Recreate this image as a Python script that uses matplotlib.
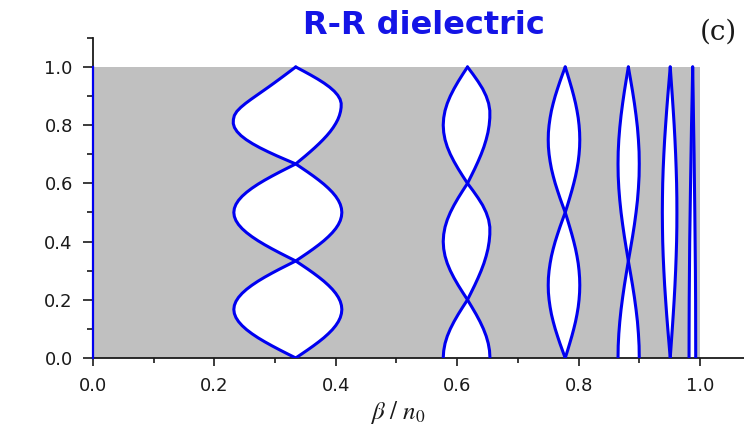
import matplotlib
matplotlib.use("Agg")
import matplotlib.pyplot as plt
from matplotlib.ticker import MultipleLocator

# ---- pass-band edges: normalized y vs. beta/n0 (left and right boundary of each band) ----
# band 1
band1_y = [0, .0139, .0278, .0417, .0556, .0694, .0833, .0972, .1111, .125, .1389, .1528,
           .1667, .1806, .1944, .2083, .2222, .2361, .25, .2639, .2778, .2917, .3056, .3194,
           .3333, .3472, .3611, .375, .3889, .4028, .4167, .4306, .4444, .4583, .4722, .4861,
           .5, .5139, .5278, .5417, .5556, .5694, .5833, .5972, .6111, .625, .6389, .6528,
           .6667, .6806, .6944, .7083, .7222, .7361, .75, .7639, .7778, .7917, .8056, .8194,
           .8333, .8472, .8611, .875, .8889, .9028, .9167, .9306, .9444, .9583, .9722, .9861, 1.0]
band1_left = [.3340, .3207, .3076, .2950, .2830, .2719, .2619, .2531, .2457, .2398, .2355, .2329,
              .2320, .2329, .2355, .2398, .2457, .2531, .2619, .2719, .2830, .2950, .3076, .3207,
              .3340, .3207, .3076, .2950, .2830, .2719, .2619, .2531, .2457, .2398, .2355, .2329,
              .2320, .2329, .2355, .2398, .2457, .2531, .2619, .2719, .2830, .2950, .3076, .3207,
              .3340, .3184, .3031, .2886, .2751, .2630, .2525, .2439, .2374, .2331, .2311, .2313,
              .2329, .2370, .2435, .2515, .2605, .2700, .2795, .2890, .2982, .3073, .3163, .3252, .3340]
band1_right = [.3340, .3439, .3537, .3631, .3720, .3803, .3877, .3943, .3998, .4042, .4074, .4093,
               .4100, .4093, .4074, .4042, .3998, .3943, .3877, .3803, .3720, .3631, .3537, .3439,
               .3340, .3439, .3537, .3631, .3720, .3803, .3877, .3943, .3998, .4042, .4074, .4093,
               .4100, .4093, .4074, .4042, .3998, .3943, .3877, .3803, .3720, .3631, .3537, .3439,
               .3340, .3420, .3500, .3577, .3652, .3723, .3790, .3852, .3908, .3957, .3999, .4034,
               .4060, .4078, .4088, .4089, .4071, .4032, .3974, .3898, .3807, .3702, .3587, .3465, .3340]

# band 2
band2_y = [0, .025, .05, .075, .1, .125, .15, .175, .2, .225, .25, .275, .3, .325,
           .35, .375, .4, .425, .45, .475, .5, .525, .55, .575, .6, .625, .65, .675,
           .7, .725, .75, .775, .8, .825, .85, .875, .9, .925, .95, .975, 1.0]
band2_left = [.5770, .5778, .5800, .5837, .5887, .5948, .6017, .6092, .6170,
              .6092, .6017, .5948, .5887, .5837, .5800, .5778, .5770,
              .5778, .5800, .5837, .5887, .5948, .6017, .6092, .6170,
              .6092, .6017, .5948, .5887, .5837, .5800, .5778, .5770,
              .5778, .5800, .5837, .5887, .5948, .6017, .6092, .6170]
band2_right = [.6540, .6533, .6512, .6478, .6432, .6376, .6312, .6242, .6170,
               .6230, .6289, .6344, .6395, .6440, .6477, .6507, .6527,
               .6538, .6538, .6518, .6477, .6419, .6344, .6260, .6170,
               .6230, .6289, .6344, .6395, .6440, .6477, .6507, .6527,
               .6538, .6538, .6518, .6477, .6419, .6344, .6260, .6170]

# band 3
band3_y = [0, .025, .05, .075, .1, .125, .15, .175, .2, .225, .25, .275, .3, .325,
           .35, .375, .4, .425, .45, .475, .5, .525, .55, .575, .6, .625, .65, .675,
           .7, .725, .75, .775, .8, .825, .85, .875, .9, .925, .95, .975, 1.0]
band3_left = [.7780, .7736, .7693, .7653, .7615, .7582, .7553, .7531, .7514, .7503, .7500,
              .7503, .7514, .7531, .7553, .7582, .7615, .7653, .7693, .7736, .7780,
              .7736, .7693, .7653, .7615, .7582, .7553, .7531, .7514, .7503, .7500,
              .7503, .7514, .7531, .7553, .7582, .7615, .7653, .7693, .7736, .7780]
band3_right = [.7780, .7818, .7854, .7889, .7921, .7950, .7974, .7994, .8008, .8017, .8020,
               .8017, .8008, .7994, .7974, .7950, .7921, .7889, .7854, .7818, .7780,
               .7818, .7854, .7889, .7921, .7950, .7974, .7994, .8008, .8017, .8020,
               .8017, .8008, .7994, .7974, .7950, .7921, .7889, .7854, .7818, .7780]

# band 4
band4_y = [0, .0417, .0833, .125, .1667, .2083, .25, .2917, .3333, .375, .4167, .4583, .5,
           .5417, .5833, .625, .6667, .7083, .75, .7917, .8333, .875, .9167, .9583, 1.0]
band4_left = [.8650, .8653, .8663, .8679, .8700, .8726, .8755, .8787, .8820,
              .8787, .8755, .8726, .8700, .8679, .8663, .8653, .8650,
              .8653, .8663, .8679, .8700, .8726, .8755, .8787, .8820]
band4_right = [.9000, .8997, .8986, .8970, .8947, .8920, .8889, .8855, .8820,
               .8855, .8889, .8920, .8947, .8970, .8986, .8997, .9000,
               .8997, .8986, .8970, .8947, .8920, .8889, .8855, .8820]

# band 5
band5_y = [0, .05, .1, .15, .2, .25, .3, .35, .4, .45, .5, .55, .6, .65, .7, .75,
           .8, .85, .9, .95, 1.0]
band5_left = [.9510, .9490, .9470, .9451, .9434, .9418, .9405, .9394, .9386, .9382, .9380,
              .9382, .9386, .9394, .9405, .9418, .9434, .9451, .9470, .9490, .9510]
band5_right = [.9510, .9527, .9544, .9560, .9575, .9588, .9599, .9608, .9615, .9619, .9620,
               .9619, .9615, .9608, .9599, .9588, .9575, .9560, .9544, .9527, .9510]

# band 6
band6_y = [0, .1, .2, .3, .4, .5, .6, .7, .8, .9, 1.0]
band6_left = [.9820, .9821, .9823, .9827, .9831, .9838, .9845, .9853, .9861, .9871, .9880]
band6_right = [.9930, .9929, .9928, .9925, .9920, .9915, .9909, .9903, .9895, .9888, .9880]

# extent of the shaded (forbidden) region and the edge line at beta = 0
region_x = [0.0, 1.0]
region_y = [0.0, 1.0]
edge0_x = [0.0, 0.0]
edge0_y = [0.0, 1.0]

x_ticks_major = [0.0, 0.2, 0.4, 0.6, 0.8, 1.0]
x_tick_labels = ["0.0", "0.2", "0.4", "0.6", "0.8", "1.0"]
y_ticks_major = [0.0, 0.2, 0.4, 0.6, 0.8, 1.0]
y_tick_labels = ["0.0", "0.2", "0.4", "0.6", "0.8", "1.0"]

bands = [
    (band1_y, band1_left, band1_right),
    (band2_y, band2_left, band2_right),
    (band3_y, band3_left, band3_right),
    (band4_y, band4_left, band4_right),
    (band5_y, band5_left, band5_right),
    (band6_y, band6_left, band6_right),
]

BLUE = "#0000f0"
GRAY = "#c0c0c0"
INK = "#1a1a1a"

plt.rcParams["mathtext.fontset"] = "stix"

fig = plt.figure(figsize=(7.44, 4.28), dpi=100)
ax = fig.add_axes([0.125, 0.1636, 0.877, 0.748])
ax.set_xlim(0, 1.075)
ax.set_ylim(0, 1.1)

# forbidden region
ax.fill_between(region_x, region_y[0], region_y[1], color=GRAY, lw=0, zorder=1)

# allowed bands: white interior outlined in blue
line_kw = dict(color=BLUE, lw=2.2, zorder=3, solid_capstyle="round", solid_joinstyle="round")
for y, xl, xr in bands:
    ax.fill_betweenx(y, xl, xr, color="white", lw=0, zorder=2)
    ax.plot(xl, y, **line_kw)
    ax.plot(xr, y, **line_kw)

ax.plot(edge0_x, edge0_y, color=BLUE, lw=1.6, zorder=5, clip_on=False)

# axes styling
for side in ("top", "right"):
    ax.spines[side].set_visible(False)
for side in ("left", "bottom"):
    ax.spines[side].set_color(INK)
    ax.spines[side].set_linewidth(1.3)

ax.set_xticks(x_ticks_major)
ax.set_xticklabels(x_tick_labels)
ax.set_yticks(y_ticks_major)
ax.set_yticklabels(y_tick_labels)
ax.xaxis.set_minor_locator(MultipleLocator(0.1))
ax.yaxis.set_minor_locator(MultipleLocator(0.1))

ax.tick_params(which="both", direction="out", color=INK, labelcolor=INK, width=1.2, labelsize=13)
ax.tick_params(axis="x", which="major", length=6, pad=8)
ax.tick_params(axis="x", which="minor", length=3.5)
ax.tick_params(axis="y", which="major", length=7.5, pad=7)
ax.tick_params(axis="y", which="minor", length=4.5)

fig.text(424 / 744, 1 - 26 / 428, "R-R dielectric", ha="center", va="center",
         fontsize=23, fontweight="bold", color="#1414e6")
fig.text(718 / 744, 1 - 32 / 428, "(c)", ha="center", va="center",
         fontsize=20, family="DejaVu Serif", color=INK)
fig.text(398 / 744, 1 - 413 / 428, r"$\beta\ /\ n_0$", ha="center", va="center",
         fontsize=18, color=INK)

fig.savefig("out.png", dpi=100)
